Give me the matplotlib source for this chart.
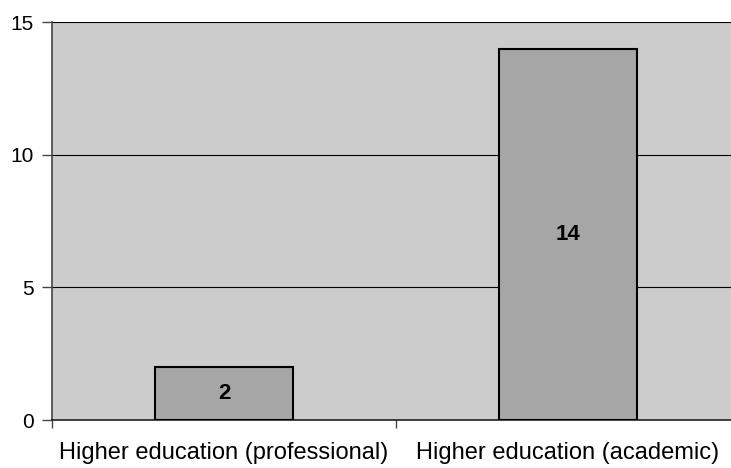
import matplotlib
matplotlib.use("Agg")
import matplotlib.pyplot as plt
from matplotlib.ticker import FixedLocator

categories = ["Higher education (professional)", "Higher education (academic)"]
values = [2, 14]
yticks = [0, 5, 10, 15]

plt.rcParams['font.family'] = ['Liberation Sans', 'DejaVu Sans']

fig = plt.figure(figsize=(7.31, 4.68), dpi=100)
ax = fig.add_axes([52/731, 48/468, (740-52)/731, (420-22)/468])
ax.set_facecolor('#CCCCCC')

x = list(range(len(categories)))
bars = ax.bar(x, values, width=0.404, color='#A6A6A6', edgecolor='black', linewidth=1.5, zorder=3)
for b, v in zip(bars, values):
    ax.text(b.get_x() + b.get_width()/2, v/2, str(v), ha='center', va='center',
            fontsize=16, fontweight='bold', zorder=4)

ax.set_xlim(-0.5, len(categories) - 0.5)
ax.set_ylim(0, 15)
ax.set_yticks(yticks)
ax.set_yticklabels([str(t) for t in yticks])
ax.tick_params(axis='y', labelsize=15, length=7, width=1, color='#444444', pad=6)
ax.yaxis.grid(True, color='black', linewidth=0.8, zorder=1)

ax.set_xticks(x)
ax.set_xticklabels(categories)
ax.tick_params(axis='x', which='major', length=0, labelsize=17, pad=16)
ax.xaxis.set_minor_locator(FixedLocator([i + 0.5 for i in range(-1, len(categories))]))
ax.tick_params(axis='x', which='minor', length=6, width=1, color='#444444')

for s in ['top', 'right']:
    ax.spines[s].set_visible(False)
ax.spines['left'].set_color('#444444')
ax.spines['bottom'].set_color('#222222')
ax.spines['left'].set_linewidth(1.2)
ax.spines['bottom'].set_linewidth(1.2)

fig.savefig('out.png', dpi=100)
